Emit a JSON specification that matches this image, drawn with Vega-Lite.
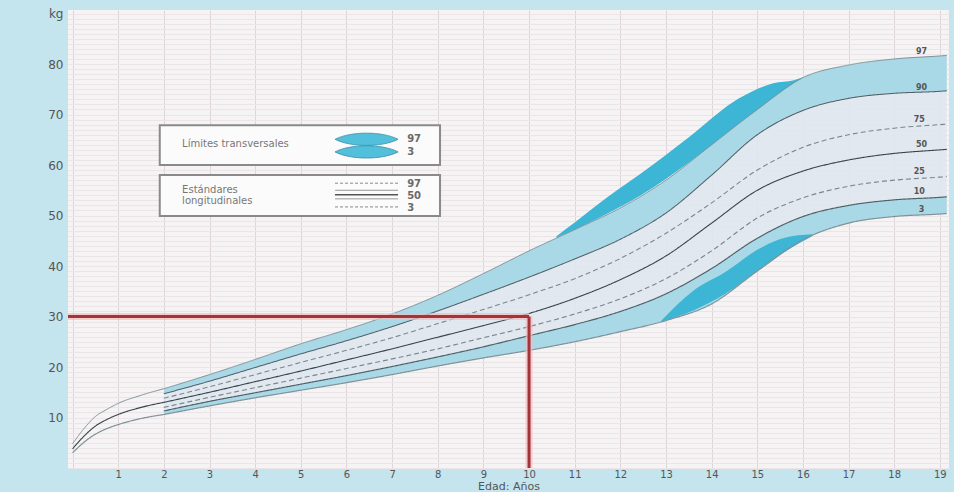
{
  "$schema": "https://vega.github.io/schema/vega-lite/v6.json",
  "width": 881,
  "height": 458,
  "autosize": {"type": "none"},
  "padding": {"left": 68, "top": 10, "right": 5, "bottom": 24},
  "background": "#c4e4ee",
  "view": {"fill": "#f6f3f4", "stroke": null},
  "config": {"font": "DejaVu Sans"},
  "datasets": {
    "w": [
      {"age": 2, "p97": 15.7, "p90": 14.7, "p75": 13.8, "p50": 13.0, "p25": 12.0, "p10": 11.3, "p3": 10.6},
      {"age": 3, "p97": 18.5, "p90": 17.2, "p75": 16.1, "p50": 15.0, "p25": 14.0, "p10": 13.2, "p3": 12.3},
      {"age": 4, "p97": 21.5, "p90": 19.9, "p75": 18.5, "p50": 17.1, "p25": 15.9, "p10": 14.9, "p3": 13.9},
      {"age": 5, "p97": 24.6, "p90": 22.6, "p75": 20.9, "p50": 19.2, "p25": 17.8, "p10": 16.6, "p3": 15.4},
      {"age": 6, "p97": 27.4, "p90": 25.2, "p75": 23.3, "p50": 21.4, "p25": 19.7, "p10": 18.3, "p3": 16.9},
      {"age": 7, "p97": 30.5, "p90": 28.0, "p75": 25.8, "p50": 23.6, "p25": 21.6, "p10": 20.1, "p3": 18.5},
      {"age": 8, "p97": 34.2, "p90": 31.1, "p75": 28.6, "p50": 25.9, "p25": 23.6, "p10": 22.0, "p3": 20.2},
      {"age": 9, "p97": 38.5, "p90": 34.4, "p75": 31.4, "p50": 28.2, "p25": 25.8, "p10": 24.0, "p3": 21.8},
      {"age": 10, "p97": 43.0, "p90": 37.8, "p75": 34.3, "p50": 30.6, "p25": 28.0, "p10": 26.2, "p3": 23.3},
      {"age": 11, "p97": 47.2, "p90": 41.4, "p75": 37.5, "p50": 33.6, "p25": 30.5, "p10": 28.4, "p3": 25.0},
      {"age": 12, "p97": 51.5, "p90": 45.3, "p75": 41.5, "p50": 37.3, "p25": 33.5, "p10": 31.0, "p3": 27.0},
      {"age": 13, "p97": 57.0, "p90": 50.5, "p75": 46.5, "p50": 42.0, "p25": 37.5, "p10": 34.5, "p3": 29.2},
      {"age": 14, "p97": 64.0, "p90": 58.0, "p75": 52.5, "p50": 48.5, "p25": 43.0, "p10": 39.5, "p3": 32.5},
      {"age": 15, "p97": 71.0, "p90": 66.0, "p75": 59.0, "p50": 55.0, "p25": 49.5, "p10": 45.5, "p3": 39.0},
      {"age": 16, "p97": 77.3, "p90": 70.8, "p75": 63.5, "p50": 58.8, "p25": 53.5, "p10": 49.8, "p3": 45.2},
      {"age": 17, "p97": 79.8, "p90": 73.2, "p75": 66.0, "p50": 61.0, "p25": 55.8, "p10": 52.0, "p3": 48.5},
      {"age": 18, "p97": 81.0, "p90": 74.2, "p75": 67.3, "p50": 62.3, "p25": 57.0, "p10": 53.1, "p3": 49.8},
      {"age": 19, "p97": 81.6, "p90": 74.6, "p75": 68.0, "p50": 63.0, "p25": 57.6, "p10": 53.6, "p3": 50.3},
      {"age": 19.15, "p97": 81.7, "p90": 74.7, "p75": 68.1, "p50": 63.1, "p25": 57.7, "p10": 53.7, "p3": 50.4}
    ],
    "early": [
      {"age": 0, "p97": 4.8, "p50": 3.8, "p3": 3.0},
      {"age": 0.25, "p97": 7.8, "p50": 6.3, "p3": 5.1},
      {"age": 0.5, "p97": 10.2, "p50": 8.3, "p3": 6.7},
      {"age": 0.75, "p97": 11.6, "p50": 9.6, "p3": 7.8},
      {"age": 1, "p97": 12.8, "p50": 10.6, "p3": 8.6},
      {"age": 1.5, "p97": 14.4, "p50": 12.0, "p3": 9.8},
      {"age": 2, "p97": 15.7, "p50": 13.0, "p3": 10.6}
    ],
    "darkUp": [
      {"age": 10.6, "kg": 45.6, "kg2": 45.9},
      {"age": 11.0, "kg": 47.2, "kg2": 48.6},
      {"age": 11.7, "kg": 50.3, "kg2": 53.5},
      {"age": 12.45, "kg": 54.0, "kg2": 58.3},
      {"age": 13.5, "kg": 60.5, "kg2": 65.5},
      {"age": 14.6, "kg": 68.2, "kg2": 73.2},
      {"age": 15.35, "kg": 73.3, "kg2": 76.2},
      {"age": 15.8, "kg": 76.2, "kg2": 76.8},
      {"age": 16.0, "kg": 77.3, "kg2": 77.4}
    ],
    "darkLow": [
      {"age": 12.9, "kg": 29.0, "kg2": 29.2},
      {"age": 13.6, "kg": 31.2, "kg2": 35.1},
      {"age": 14.3, "kg": 34.5, "kg2": 38.8},
      {"age": 15.0, "kg": 39.0, "kg2": 43.2},
      {"age": 15.6, "kg": 42.8, "kg2": 45.6},
      {"age": 16.2, "kg": 45.9, "kg2": 46.3}
    ],
    "red": [
      {"age": -0.1, "age2": 10, "kg": 30, "kg2": 30},
      {"age": 10, "age2": 10, "kg": 0, "kg2": 30}
    ],
    "boxes": [
      {"age": 1.91, "age2": 8.05, "kg": 60.0, "kg2": 67.9},
      {"age": 1.91, "age2": 8.05, "kg": 49.9, "kg2": 58.0}
    ],
    "boxText": [
      {"age": 2.4, "kg": 64.2, "t": "Límites transversales"},
      {"age": 2.4, "kg": 55.0, "t": "Estándares"},
      {"age": 2.4, "kg": 52.9, "t": "longitudinales"}
    ],
    "boxNum": [
      {"age": 7.33, "kg": 65.1, "t": "97"},
      {"age": 7.33, "kg": 62.6, "t": "3"},
      {"age": 7.33, "kg": 56.2, "t": "97"},
      {"age": 7.33, "kg": 53.9, "t": "50"},
      {"age": 7.33, "kg": 51.5, "t": "3"}
    ],
    "lens": [
      {"age": 6.44, "kg": 65.1},
      {"age": 6.44, "kg": 62.6}
    ],
    "legDash": [
      {"age": 5.75, "age2": 7.13, "kg": 56.4},
      {"age": 5.75, "age2": 7.13, "kg": 51.7}
    ],
    "legThin": [
      {"age": 5.75, "age2": 7.13, "kg": 55.0},
      {"age": 5.75, "age2": 7.13, "kg": 53.3}
    ],
    "legMid": [
      {"age": 5.75, "age2": 7.13, "kg": 54.1}
    ],
    "pLabels": [
      {"age": 18.6, "kg": 82.4, "t": "97"},
      {"age": 18.6, "kg": 75.3, "t": "90"},
      {"age": 18.55, "kg": 68.9, "t": "75"},
      {"age": 18.6, "kg": 64.0, "t": "50"},
      {"age": 18.55, "kg": 58.7, "t": "25"},
      {"age": 18.55, "kg": 54.7, "t": "10"},
      {"age": 18.6, "kg": 51.1, "t": "3"}
    ]
  },
  "encoding": {
    "x": {
      "field": "age",
      "type": "quantitative",
      "scale": {"domain": [-0.1, 19.2], "nice": false, "zero": false},
      "title": "Edad: Años",
      "axis": {
        "values": [0, 1, 2, 3, 4, 5, 6, 7, 8, 9, 10, 11, 12, 13, 14, 15, 16, 17, 18, 19],
        "labelExpr": "datum.value === 0 ? '' : datum.label",
        "grid": true,
        "gridColor": "#ddd5d9",
        "ticks": false,
        "domain": false,
        "labelFontSize": 10,
        "labelColor": "#555555",
        "labelPadding": 1,
        "labelOverlap": false,
        "titleFontSize": 11,
        "titleColor": "#555555",
        "titleFontWeight": "normal",
        "titleBaseline": "alphabetic",
        "titleY": 21
      }
    },
    "y": {
      "field": "kg",
      "type": "quantitative",
      "scale": {"domain": [0, 90.7], "nice": false, "zero": false},
      "title": null,
      "axis": {
        "values": [0, 1, 2, 3, 4, 5, 6, 7, 8, 9, 10, 11, 12, 13, 14, 15, 16, 17, 18, 19, 20, 21, 22, 23, 24, 25, 26, 27, 28, 29, 30, 31, 32, 33, 34, 35, 36, 37, 38, 39, 40, 41, 42, 43, 44, 45, 46, 47, 48, 49, 50, 51, 52, 53, 54, 55, 56, 57, 58, 59, 60, 61, 62, 63, 64, 65, 66, 67, 68, 69, 70, 71, 72, 73, 74, 75, 76, 77, 78, 79, 80, 81, 82, 83, 84, 85, 86, 87, 88, 89, 90],
        "labelExpr": "(datum.value % 10 === 0 && datum.value > 0) ? (datum.value === 90 ? 'kg' : datum.label) : ''",
        "grid": true,
        "gridColor": "#ebe5e8",
        "ticks": false,
        "domain": false,
        "labelFontSize": 12,
        "labelColor": "#555555",
        "labelPadding": 5,
        "labelOverlap": false
      }
    }
  },
  "layer": [
    {
      "data": {"name": "w"},
      "mark": {"type": "area", "interpolate": "monotone", "color": "#e0e7ee", "opacity": 0.9},
      "encoding": {
        "y": {"field": "p97", "type": "quantitative", "scale": {"domain": [0, 90.7], "nice": false, "zero": false}, "title": null},
        "y2": {"field": "p3"}
      }
    },
    {
      "data": {"name": "w"},
      "mark": {"type": "area", "interpolate": "monotone", "color": "#a9d8e6"},
      "encoding": {
        "y": {"field": "p97", "type": "quantitative", "scale": {"domain": [0, 90.7], "nice": false, "zero": false}, "title": null},
        "y2": {"field": "p90"}
      }
    },
    {
      "data": {"name": "w"},
      "mark": {"type": "area", "interpolate": "monotone", "color": "#a9d8e6"},
      "encoding": {
        "y": {"field": "p10", "type": "quantitative", "scale": {"domain": [0, 90.7], "nice": false, "zero": false}, "title": null},
        "y2": {"field": "p3"}
      }
    },
    {
      "data": {"name": "darkUp"},
      "mark": {"type": "area", "interpolate": "monotone", "color": "#3db5d5"},
      "encoding": {"y2": {"field": "kg2"}}
    },
    {
      "data": {"name": "darkLow"},
      "mark": {"type": "area", "interpolate": "monotone", "color": "#3db5d5"},
      "encoding": {"y2": {"field": "kg2"}}
    },
    {
      "data": {"name": "w"},
      "transform": [{"fold": ["p97", "p90", "p75", "p50", "p25", "p10", "p3"], "as": ["p", "kg"]}],
      "mark": {"type": "line", "interpolate": "monotone"},
      "encoding": {
        "color": {"field": "p", "type": "nominal", "legend": null, "scale": {"domain": ["p97", "p90", "p75", "p50", "p25", "p10", "p3"], "range": ["#7f9298", "#4f6066", "#7a878c", "#36444a", "#7a878c", "#4f6066", "#7f9298"]}},
        "strokeDash": {"field": "p", "type": "nominal", "legend": null, "scale": {"domain": ["p97", "p90", "p75", "p50", "p25", "p10", "p3"], "range": [[1, 0], [1, 0], [5, 3], [1, 0], [5, 3], [1, 0], [1, 0]]}},
        "strokeWidth": {"field": "p", "type": "ordinal", "legend": null, "scale": {"domain": ["p97", "p90", "p75", "p50", "p25", "p10", "p3"], "range": [1, 1.2, 1, 1.6, 1, 1.2, 1]}}
      }
    },
    {
      "data": {"name": "early"},
      "transform": [{"fold": ["p97", "p50", "p3"], "as": ["p", "kg"]}],
      "mark": {"type": "line", "interpolate": "monotone"},
      "encoding": {
        "color": {"field": "p", "type": "nominal", "legend": null, "scale": {"domain": ["p97", "p90", "p75", "p50", "p25", "p10", "p3"], "range": ["#7f9298", "#4f6066", "#7a878c", "#36444a", "#7a878c", "#4f6066", "#7f9298"]}},
        "strokeDash": {"field": "p", "type": "nominal", "legend": null, "scale": {"domain": ["p97", "p90", "p75", "p50", "p25", "p10", "p3"], "range": [[1, 0], [1, 0], [5, 3], [1, 0], [5, 3], [1, 0], [1, 0]]}},
        "strokeWidth": {"field": "p", "type": "ordinal", "legend": null, "scale": {"domain": ["p97", "p90", "p75", "p50", "p25", "p10", "p3"], "range": [1, 1.2, 1, 1.6, 1, 1.2, 1]}}
      }
    },
    {
      "data": {"name": "red"},
      "mark": {"type": "rule", "color": "#f3bcbc", "strokeWidth": 7, "opacity": 0.7},
      "encoding": {"x2": {"field": "age2"}, "y2": {"field": "kg2"}}
    },
    {
      "data": {"name": "red"},
      "mark": {"type": "rule", "color": "#a3353a", "strokeWidth": 3},
      "encoding": {"x2": {"field": "age2"}, "y2": {"field": "kg2"}}
    },
    {
      "data": {"name": "boxes"},
      "mark": {"type": "rect", "fill": "#fbfbfb", "stroke": "#8a8a8a", "strokeWidth": 2},
      "encoding": {"x2": {"field": "age2"}, "y2": {"field": "kg2"}}
    },
    {
      "data": {"name": "boxText"},
      "mark": {"type": "text", "align": "left", "baseline": "middle", "fontSize": 10, "color": "#777777"},
      "encoding": {"text": {"field": "t"}}
    },
    {
      "data": {"name": "boxNum"},
      "mark": {"type": "text", "align": "left", "baseline": "middle", "fontSize": 10, "fontWeight": "bold", "color": "#6a6a6a"},
      "encoding": {"text": {"field": "t"}}
    },
    {
      "data": {"name": "lens"},
      "mark": {"type": "point", "shape": "M-1,0 C-0.5,-0.26 0.5,-0.26 1,0 C0.5,0.26 -0.5,0.26 -1,0 Z", "size": 3969, "filled": true, "fill": "#52bfdb", "stroke": "#3a8ea5", "strokeWidth": 0.8, "opacity": 1}
    },
    {
      "data": {"name": "legDash"},
      "mark": {"type": "rule", "color": "#888888", "strokeWidth": 1, "strokeDash": [3, 2]},
      "encoding": {"x2": {"field": "age2"}}
    },
    {
      "data": {"name": "legThin"},
      "mark": {"type": "rule", "color": "#999999", "strokeWidth": 1},
      "encoding": {"x2": {"field": "age2"}}
    },
    {
      "data": {"name": "legMid"},
      "mark": {"type": "rule", "color": "#555555", "strokeWidth": 1.6},
      "encoding": {"x2": {"field": "age2"}}
    },
    {
      "data": {"name": "pLabels"},
      "mark": {"type": "text", "align": "center", "baseline": "middle", "fontSize": 8, "fontWeight": "bold", "color": "#555555"},
      "encoding": {"text": {"field": "t"}}
    }
  ]
}
